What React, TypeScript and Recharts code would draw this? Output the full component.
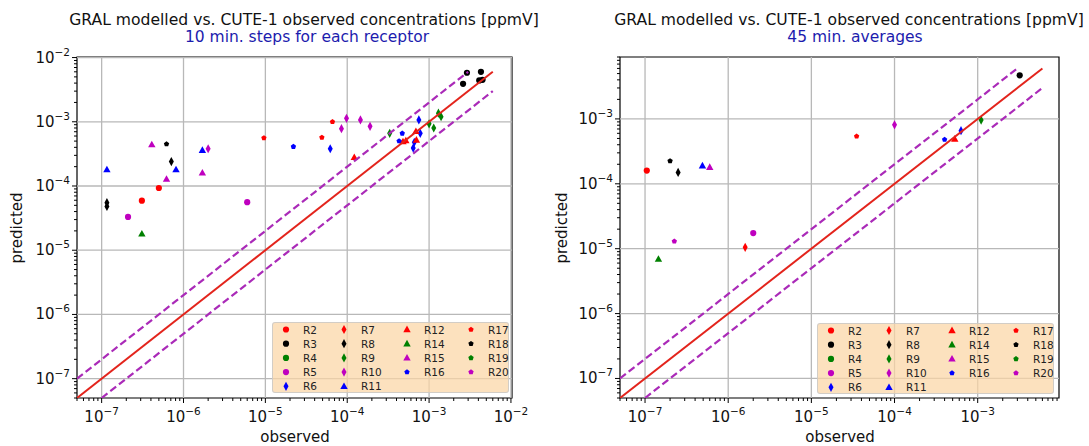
import React from 'react';
import { ScatterChart, Scatter, XAxis, YAxis, ReferenceLine, ReferenceArea } from 'recharts';

const FONT = "'DejaVu Sans', sans-serif";

// receptors, in legend order
const receptors = ['R2', 'R3', 'R4', 'R5', 'R6', 'R7', 'R8', 'R9', 'R10', 'R11', 'R12', 'R14', 'R15', 'R16', 'R17', 'R18', 'R19', 'R20'];
const receptorColors = ['#ff0000', '#000000', '#008000', '#bf00bf', '#0000ff', '#ff0000', '#000000', '#008000', '#bf00bf', '#0000ff', '#ff0000', '#008000', '#bf00bf', '#0000ff', '#ff0000', '#000000', '#008000', '#bf00bf'];
const receptorMarkers = ['o', 'o', 'o', 'o', 'd', 'd', 'd', 'd', 'd', '^', '^', '^', '^', 'p', 'p', 'p', 'p', 'p'];
const legendColumnSizes = [5, 5, 4, 4];

// 10 min. steps — observed / predicted / receptor
const obs10 = [
  3.1e-7, 5.0e-7,
  2.9e-3, 4.3e-3, 2.6e-3, 4.1e-3, 4.5e-3,
  2.1e-7, 6.0e-6,
  6.2e-5, 7.5e-4, 7.8e-4, 6.6e-4, 6.4e-4,
  7.1e-7, 1.16e-7, 1.16e-7,
  3.3e-4, 1.0e-3, 1.14e-3, 1.3e-3, 1.4e-3,
  2.0e-6, 8.5e-5, 9.8e-5, 1.45e-4, 1.9e-4,
  1.16e-7, 8.1e-7, 1.7e-6,
  1.22e-4, 4.8e-4, 5.2e-4, 7.0e-4, 6.9e-4,
  3.1e-7,
  4.1e-7, 6.2e-7, 1.7e-6,
  2.2e-5, 4.7e-4, 4.3e-4,
  9.6e-6, 4.9e-5, 6.6e-5,
  6.2e-7,
];
const pred10 = [
  5.9e-5, 9.3e-5,
  5.8e-3, 6.0e-3, 3.9e-3, 4.4e-3, 4.5e-3,
  3.3e-5, 5.6e-5,
  3.8e-4, 1.07e-3, 6.6e-4, 4.8e-4, 3.9e-4,
  2.4e-4, 5.5e-5, 4.8e-5,
  6.6e-4, 9.3e-4, 8.0e-4, 1.36e-3, 1.2e-3,
  3.8e-4, 7.8e-4, 1.13e-3, 1.07e-3, 8.5e-4,
  1.8e-4, 1.8e-4, 3.6e-4,
  2.8e-4, 4.9e-4, 5.1e-4, 5.2e-4, 7.1e-4,
  1.8e-5,
  4.4e-4, 1.28e-4, 1.6e-4,
  4.1e-4, 6.6e-4, 5.0e-4,
  5.6e-4, 5.7e-4, 1.0e-3,
  4.5e-4,
];
const rec10 = [
  'R2', 'R2',
  'R3', 'R3', 'R3', 'R3', 'R3',
  'R5', 'R5',
  'R6', 'R6', 'R6', 'R6', 'R6',
  'R8', 'R8', 'R8',
  'R9', 'R9', 'R9', 'R9', 'R9',
  'R10', 'R10', 'R10', 'R10', 'R10',
  'R11', 'R11', 'R11',
  'R12', 'R12', 'R12', 'R12', 'R12',
  'R14',
  'R15', 'R15', 'R15',
  'R16', 'R16', 'R16',
  'R17', 'R17', 'R17',
  'R18',
];

// 45 min. averages
const obs45 = [1.05e-7, 3.2e-3, 2.0e-6, 6.3e-4, 1.6e-6, 2.5e-7, 1.1e-3, 1.0e-4, 4.9e-7, 5.3e-4, 1.45e-7, 6.0e-7, 4.0e-4, 3.5e-5, 2.0e-7, 2.25e-7];
const pred45 = [1.6e-4, 4.7e-3, 1.74e-5, 6.6e-4, 1.05e-5, 1.5e-4, 9.6e-4, 8.1e-4, 1.9e-4, 4.9e-4, 6.9e-6, 1.8e-4, 4.8e-4, 5.4e-4, 2.25e-4, 1.3e-5];
const rec45 = ['R2', 'R3', 'R5', 'R6', 'R7', 'R8', 'R9', 'R10', 'R11', 'R12', 'R14', 'R15', 'R16', 'R17', 'R18', 'R20'];

// reference lines: 1:1 and factor of two
const lineOneToOne = [[5e-8, 5e-8], [6e-3, 6e-3]];
const lineUpper = [[5e-8, 1e-7], [3e-3, 6e-3]];
const lineLower = [[1e-7, 5e-8], [6e-3, 3e-3]];

// axes
const xMajor10 = [1e-7, 1e-6, 1e-5, 1e-4, 1e-3, 1e-2];
const yMajor10 = [1e-7, 1e-6, 1e-5, 1e-4, 1e-3, 1e-2];
const xMajor45 = [1e-7, 1e-6, 1e-5, 1e-4, 1e-3];
const yMajor45 = [1e-7, 1e-6, 1e-5, 1e-4, 1e-3];
const xDomain10: [number, number] = [5e-8, 1.03e-2];
const yDomain10: [number, number] = [5e-8, 1.02e-2];
const xDomain45: [number, number] = [5e-8, 9.5e-3];
const yDomain45: [number, number] = [5e-8, 9e-3];

function withMinors(domain: [number, number]) {
  const out: number[] = [];
  for (let e = -9; e <= -1; e++) {
    for (let m = 1; m <= 9; m++) {
      const v = m * Math.pow(10, e);
      if (v >= domain[0] * 0.999 && v <= domain[1] * 1.001) out.push(v);
    }
  }
  return out;
}

function isMajor(v: number) {
  const l = Math.log10(v);
  return Math.abs(l - Math.round(l)) < 1e-6;
}

function Marker({ kind, color, cx, cy }: { kind: string; color: string; cx: number; cy: number }) {
  if (cx == null || cy == null) return <g />;
  if (kind === 'o') return <circle cx={cx} cy={cy} r={3.1} fill={color} />;
  if (kind === 'd')
    return <polygon points={`${cx},${cy - 4.6} ${cx + 2.5},${cy} ${cx},${cy + 4.6} ${cx - 2.5},${cy}`} fill={color} />;
  if (kind === '^')
    return <polygon points={`${cx},${cy - 3.9} ${cx + 3.7},${cy + 2.7} ${cx - 3.7},${cy + 2.7}`} fill={color} />;
  const pts = [0, 1, 2, 3, 4]
    .map((k) => {
      const a = -Math.PI / 2 + (k * 2 * Math.PI) / 5;
      return `${cx + 2.8 * Math.cos(a)},${cy + 2.8 * Math.sin(a)}`;
    })
    .join(' ');
  return <polygon points={pts} fill={color} />;
}

function XTick(props: any) {
  const { x, y, payload } = props;
  const v = payload.value;
  const major = isMajor(v);
  const e = Math.round(Math.log10(v));
  return (
    <g>
      <line x1={x} x2={x} y1={y} y2={y + (major ? 5 : 3)} stroke="#000" strokeWidth={1} />
      {major && (
        <text x={x} y={y + 24} textAnchor="middle" fontSize={15} fontFamily={FONT} fill="#111">
          10<tspan dy={-7} fontSize={10.5}>{`\u2212${-e}`}</tspan>
        </text>
      )}
    </g>
  );
}

function YTick(props: any) {
  const { x, y, payload } = props;
  const v = payload.value;
  const major = isMajor(v);
  const e = Math.round(Math.log10(v));
  return (
    <g>
      <line x1={x} x2={x - (major ? 5 : 3)} y1={y} y2={y} stroke="#000" strokeWidth={1} />
      {major && (
        <text x={x - 7} y={y + 5} textAnchor="end" fontSize={15} fontFamily={FONT} fill="#111">
          10<tspan dy={-7} fontSize={10.5}>{`\u2212${-e}`}</tspan>
        </text>
      )}
    </g>
  );
}

function Legend({ left, top }: { left: number; top: number }) {
  const colX = [13, 71, 134, 198];
  let idx = 0;
  const items: React.ReactNode[] = [];
  legendColumnSizes.forEach((size, c) => {
    for (let r = 0; r < size; r++) {
      const i = idx++;
      const cy = 6.5 + r * 14.2;
      items.push(
        <g key={receptors[i]}>
          <Marker kind={receptorMarkers[i]} color={receptorColors[i]} cx={colX[c]} cy={cy} />
          <text x={colX[c] + 17} y={cy + 4} fontSize={10.5} fontFamily={FONT} fill="#222">
            {receptors[i]}
          </text>
        </g>
      );
    }
  });
  return (
    <div
      style={{
        position: 'absolute',
        left,
        top,
        width: 237,
        height: 71,
        background: 'rgba(251, 214, 165, 0.72)',
        border: '1px solid rgba(200,200,200,0.8)',
        borderRadius: 3,
        boxSizing: 'border-box',
      }}
    >
      <svg width={237} height={71} style={{ position: 'absolute', left: 0, top: 0 }}>
        {items}
      </svg>
    </div>
  );
}

interface PanelProps {
  left: number;
  marginLeft: number;
  marginRight: number;
  obs: number[];
  pred: number[];
  rec: string[];
  xDomain: [number, number];
  yDomain: [number, number];
  xMajor: number[];
  yMajor: number[];
}

function toPts(pairs: number[][]) {
  return pairs.map(([x, y]) => ({ x, y }));
}

function Panel({ left, marginLeft, marginRight, obs, pred, rec, xDomain, yDomain, xMajor, yMajor }: PanelProps) {
  const series = receptors
    .map((name, i) => ({
      name,
      color: receptorColors[i],
      marker: receptorMarkers[i],
      data: obs.map((x, k) => ({ x, y: pred[k], r: rec[k] })).filter((p) => p.r === name),
    }))
    .filter((s) => s.data.length > 0);

  return (
    <div style={{ position: 'absolute', left, top: 0 }}>
      <ScatterChart width={530} height={446} margin={{ top: 57, right: marginRight, bottom: 0, left: marginLeft }}>
        <XAxis
          dataKey="x"
          type="number"
          scale="log"
          domain={xDomain}
          allowDataOverflow
          ticks={withMinors(xDomain)}
          interval={0}
          tick={<XTick />}
          tickLine={false}
          tickSize={0}
          tickMargin={0}
          axisLine={false}
          height={48}
        />
        <YAxis
          dataKey="y"
          type="number"
          scale="log"
          domain={yDomain}
          allowDataOverflow
          ticks={withMinors(yDomain)}
          interval={0}
          tick={<YTick />}
          tickLine={false}
          tickSize={0}
          tickMargin={0}
          axisLine={false}
          width={60}
        />
        {xMajor.map((v) => (
          <ReferenceLine key={`gx${v}`} x={v} stroke="#b8b8b8" strokeWidth={1.3} />
        ))}
        {yMajor.map((v) => (
          <ReferenceLine key={`gy${v}`} y={v} stroke="#b8b8b8" strokeWidth={1.3} />
        ))}
        {series.map((s) => (
          <Scatter
            key={s.name}
            name={s.name}
            data={s.data}
            isAnimationActive={false}
            shape={(p: any) => <Marker kind={s.marker} color={s.color} cx={p.cx} cy={p.cy} />}
          />
        ))}
        <Scatter
          data={toPts(lineUpper)}
          isAnimationActive={false}
          line={{ stroke: '#aa2ab8', strokeWidth: 2.2, strokeDasharray: '7.4 3.6' }}
          shape={() => <g />}
        />
        <Scatter
          data={toPts(lineLower)}
          isAnimationActive={false}
          line={{ stroke: '#aa2ab8', strokeWidth: 2.2, strokeDasharray: '7.4 3.6' }}
          shape={() => <g />}
        />
        <Scatter
          data={toPts(lineOneToOne)}
          isAnimationActive={false}
          line={{ stroke: '#e3241c', strokeWidth: 2 }}
          shape={() => <g />}
        />
        <ReferenceArea x1={xDomain[0]} x2={xDomain[1]} y1={yDomain[0]} y2={yDomain[1]} fill="none" stroke="#000" strokeWidth={1.2} ifOverflow="visible" />
      </ScatterChart>
    </div>
  );
}

const textBase: React.CSSProperties = { position: 'absolute', fontFamily: FONT, whiteSpace: 'nowrap', textAlign: 'center' };

export default function App() {
  return (
    <div style={{ position: 'absolute', left: 0, top: 0, width: 1089, height: 446, background: '#fff', overflow: 'hidden' }}>
      <Panel
        left={0}
        marginLeft={17}
        marginRight={18}
        obs={obs10}
        pred={pred10}
        rec={rec10}
        xDomain={xDomain10}
        yDomain={yDomain10}
        xMajor={xMajor10}
        yMajor={yMajor10}
      />
      <Panel
        left={545}
        marginLeft={15}
        marginRight={16}
        obs={obs45}
        pred={pred45}
        rec={rec45}
        xDomain={xDomain45}
        yDomain={yDomain45}
        xMajor={xMajor45}
        yMajor={yMajor45}
      />

      {/* titles */}
      <div style={{ ...textBase, left: 4, width: 600, top: 12, fontSize: 15.6, lineHeight: '17px', color: '#111' }}>
        GRAL modelled vs. CUTE-1 observed concentrations [ppmV]
      </div>
      <div style={{ ...textBase, left: 7, width: 600, top: 29, fontSize: 15.5, lineHeight: '17px', color: '#1c1cae' }}>
        10 min. steps for each receptor
      </div>
      <div style={{ ...textBase, left: 549, width: 600, top: 12, fontSize: 15.6, lineHeight: '17px', color: '#111' }}>
        GRAL modelled vs. CUTE-1 observed concentrations [ppmV]
      </div>
      <div style={{ ...textBase, left: 555, width: 600, top: 29, fontSize: 15.5, lineHeight: '17px', color: '#1c1cae' }}>
        45 min. averages
      </div>

      {/* axis labels */}
      <div style={{ ...textBase, left: 195, width: 200, top: 428, fontSize: 15, lineHeight: '18px', color: '#111' }}>observed</div>
      <div style={{ ...textBase, left: 740, width: 200, top: 428, fontSize: 15, lineHeight: '18px', color: '#111' }}>observed</div>
      <div
        style={{ ...textBase, left: -83, width: 200, top: 219, fontSize: 15, lineHeight: '18px', color: '#111', transform: 'rotate(-90deg)' }}
      >
        predicted
      </div>
      <div
        style={{ ...textBase, left: 462, width: 200, top: 219, fontSize: 15, lineHeight: '18px', color: '#111', transform: 'rotate(-90deg)' }}
      >
        predicted
      </div>

      <Legend left={272} top={322} />
      <Legend left={817} top={323} />
    </div>
  );
}
